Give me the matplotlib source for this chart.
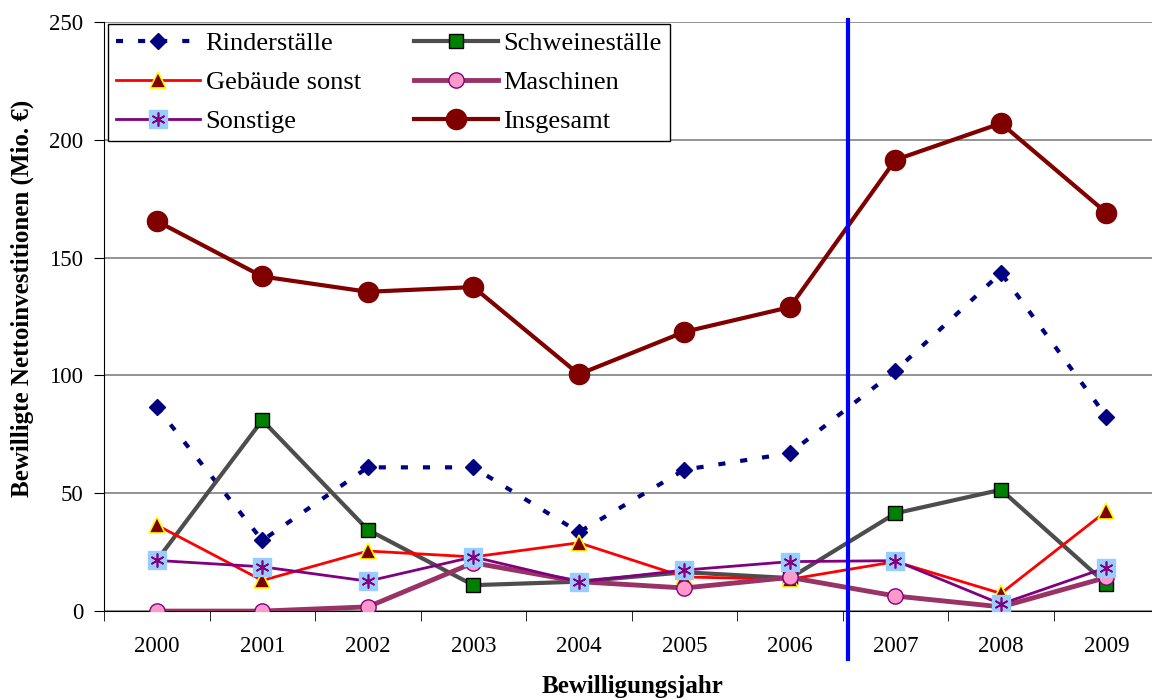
import matplotlib.pyplot as plt
from matplotlib.legend_handler import HandlerTuple

# data
# ======================
years = [2000, 2001, 2002, 2003, 2004, 2005, 2006, 2007, 2008, 2009]
rinder = [86.5, 30, 61, 61, 33.5, 60, 67, 102, 143.5, 82.5]
schweine = [21.5, 81, 34.5, 11, 12.5, 16.5, 14, 41.5, 51.5, 11.5]
gebaeude = [36.5, 13, 25.5, 23, 29, 14.5, 13.5, 21, 7.5, 42.5]
maschinen = [0, 0, 1.8, 20.5, 12.5, 9.8, 14.3, 6.4, 1.8, 14.3]
sonstige = [21.5, 18.8, 12.7, 23, 12.4, 17.4, 21, 21.4, 3, 18.5]
insgesamt = [165.5, 142, 135.5, 137.5, 100.5, 118.5, 129, 191.5, 207, 169]
split_year = 2006.55

plt.rcParams['font.family'] = ['Liberation Serif', 'DejaVu Serif']

fig = plt.figure(figsize=(11.52, 7.0), dpi=100)
ax = fig.add_axes([0.0903, 0.127, 0.916, 0.8416])

# series
h_rinder, = ax.plot(years, rinder, color='#000080', lw=3, ls=(0, (1.7, 3.6)),
                    marker='D', ms=8, mfc='#000080', mec='#000080', label='Rinderställe', zorder=3)
h_schwein, = ax.plot(years, schweine, color='#4d4d4d', lw=3,
                     marker='s', ms=10, mfc='#008000', mec='black', mew=1, label='Schweineställe', zorder=4)
h_geb, = ax.plot(years, gebaeude, color='red', lw=2,
                 marker='^', ms=12, mfc='#800000', mec='yellow', mew=1.2, label='Gebäude sonst', zorder=5)
h_masch, = ax.plot(years, maschinen, color='#993366', lw=3.5,
                   marker='o', ms=11, mfc='#ff99cc', mec='#800080', mew=1, label='Maschinen', zorder=5)
h_sonst, = ax.plot(years, sonstige, color='#800080', lw=2,
                   marker='s', ms=13, mfc='#99ccff', mec='#99ccff', label='Sonstige', zorder=6)
h_sonst2, = ax.plot(years, sonstige, ls='none', marker=(6, 2, 0), ms=10,
                    mec='#800080', mew=1.2, zorder=7)
h_ges, = ax.plot(years, insgesamt, color='#800000', lw=3,
                 marker='o', ms=14.5, mfc='#800000', mec='#800000', label='Insgesamt', zorder=6)

# vertical separator
ax.plot([split_year, split_year], [250.8, -20.5], color='blue', lw=3, clip_on=False, zorder=8)

# axes
ax.set_xlim(1999.5, 2009.5)
ax.set_ylim(0, 250)
ax.set_yticks([0, 50, 100, 150, 200, 250])
ax.set_xticks(years)
ax.set_xticks([y + 0.5 for y in range(1999, 2009)], minor=True)
ax.tick_params(axis='x', which='major', length=0, labelsize=16.5, pad=18)
ax.tick_params(axis='x', which='minor', length=7, direction='out', color='black')
ax.tick_params(axis='y', length=7, direction='out', labelsize=16.5, pad=8)
ax.yaxis.grid(True, color='#808080', lw=1.2)
ax.set_axisbelow(True)
for s in ['top', 'right']:
    ax.spines[s].set_visible(False)
ax.spines['left'].set_color('black')
ax.spines['bottom'].set_color('black')

fig.text(0.549, 0.0186, 'Bewilligungsjahr', ha='center', va='center',
         fontsize=18, fontweight='bold')
fig.text(0.019, 0.574, 'Bewilligte Nettoinvestitionen (Mio. €)', ha='center', va='center',
         rotation=90, fontsize=18, fontweight='bold')

# legend, filled row by row like the original
leg = ax.legend([h_rinder, h_geb, (h_sonst, h_sonst2), h_schwein, h_masch, h_ges],
                ['Rinderställe', 'Gebäude sonst', 'Sonstige', 'Schweineställe', 'Maschinen', 'Insgesamt'],
                handler_map={tuple: HandlerTuple(ndivide=1, pad=0)},
                loc='upper left', bbox_to_anchor=(0.0938, 0.9657), bbox_transform=fig.transFigure,
                ncol=2, fontsize=19, frameon=True, fancybox=False, edgecolor='black',
                framealpha=1, handlelength=3.2, columnspacing=2.0, labelspacing=0.58,
                borderpad=0.3, handletextpad=0.2, borderaxespad=0)
leg.get_frame().set_linewidth(1.0)

fig.savefig('out.png', dpi=100)
